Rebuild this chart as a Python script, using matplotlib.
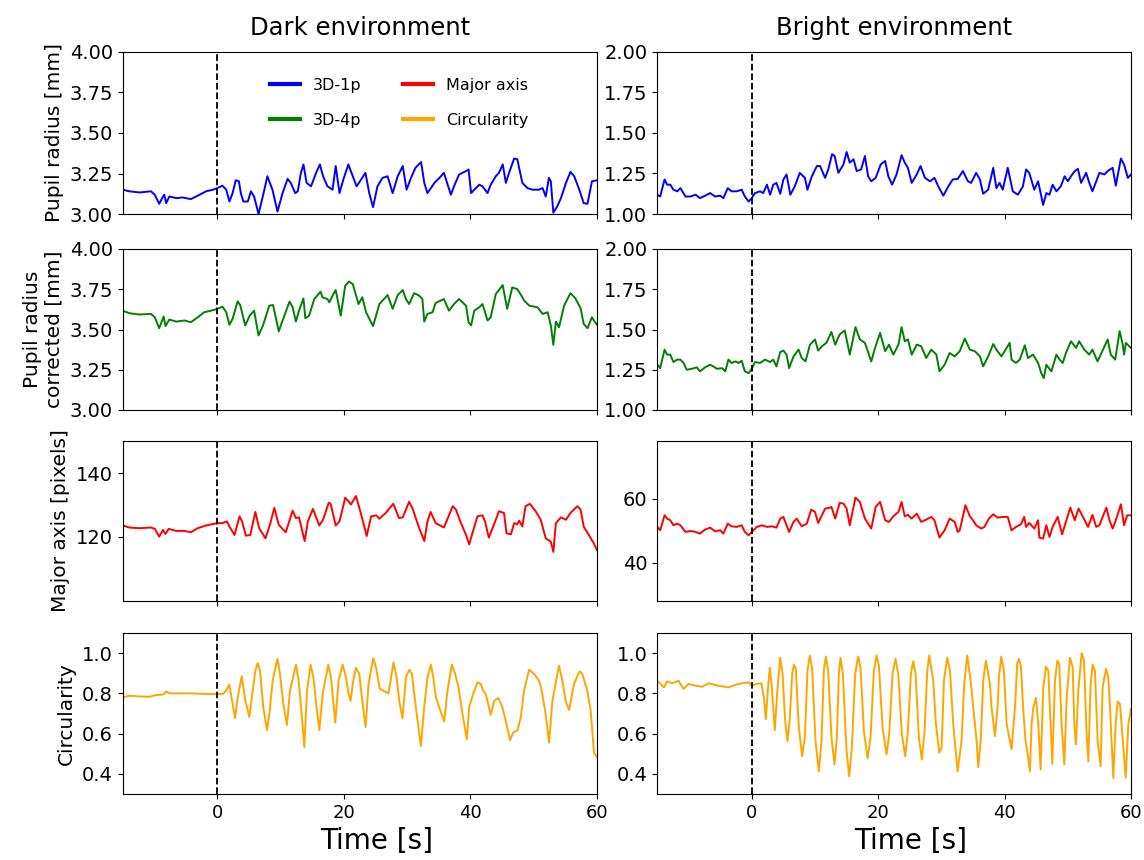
import matplotlib
matplotlib.use("Agg")
import matplotlib.pyplot as plt
from matplotlib.lines import Line2D

# ---------------- Dark environment ----------------
dark_r1p_t = [-15, -13.9, -12.3, -10.5, -9.9, -9.2, -8.6, -8.4, -8.1, -7.6,
              -6.5, -5.5, -4.2, -2.8, -1.8, -0.7, 0, 0.8, 1.4, 1.9,
              2.4, 2.9, 3.4, 3.7, 4.1, 4.8, 5.3, 5.8, 6.5, 7.3,
              7.9, 8.7, 9.5, 10.3, 11.1, 11.6, 12.3, 12.7, 13.2, 13.6,
              14.1, 14.8, 15.6, 16.2, 16.7, 17.4, 18.2, 18.7, 19.3, 19.9,
              20.7, 21.4, 22.0, 22.7, 23.4, 24.0, 24.6, 25.3, 26.1, 26.9,
              27.7, 28.5, 29.3, 29.9, 30.6, 31.3, 32.2, 32.7, 33.2, 34.3,
              35.1, 35.8, 36.9, 37.4, 38.2, 39.3, 39.7, 40.1, 40.6, 41.4,
              41.9, 42.7, 43.2, 44.0, 44.5, 45.1, 45.6, 46.1, 46.9, 47.4,
              48.2, 49.0, 49.8, 50.8, 51.4, 51.9, 52.4, 52.7, 53.1, 53.7,
              54.3, 55.1, 55.8, 56.4, 57.2, 57.9, 58.5, 59.2, 60]
dark_r1p = [3.150, 3.140, 3.133, 3.140, 3.119, 3.063, 3.108, 3.119, 3.067, 3.108,
            3.098, 3.102, 3.092, 3.119, 3.140, 3.150, 3.160, 3.175, 3.150, 3.077,
            3.129, 3.208, 3.202, 3.129, 3.077, 3.077, 3.140, 3.108, 3.000, 3.129,
            3.233, 3.150, 3.015, 3.129, 3.217, 3.192, 3.129, 3.140, 3.254, 3.306,
            3.192, 3.171, 3.254, 3.306, 3.233, 3.171, 3.150, 3.296, 3.129, 3.212,
            3.306, 3.233, 3.171, 3.212, 3.254, 3.129, 3.042, 3.171, 3.223, 3.233,
            3.129, 3.233, 3.296, 3.150, 3.223, 3.285, 3.321, 3.192, 3.129, 3.192,
            3.223, 3.254, 3.119, 3.171, 3.244, 3.265, 3.275, 3.129, 3.150, 3.181,
            3.171, 3.129, 3.181, 3.233, 3.254, 3.306, 3.192, 3.254, 3.342, 3.338,
            3.192, 3.160, 3.150, 3.150, 3.160, 3.108, 3.223, 3.202, 3.008, 3.046,
            3.098, 3.192, 3.260, 3.233, 3.150, 3.067, 3.063, 3.202, 3.208]

dark_r4p_t = [-15, -13.9, -12.3, -10.5, -9.9, -9.2, -8.5, -8.2, -7.6, -6.5,
              -5.2, -4.2, -3.1, -2.1, -1.0, 0, 0.8, 1.4, 1.9, 2.4,
              3.2, 3.6, 4.4, 5.1, 5.8, 6.5, 7.2, 8.2, 8.8, 9.7,
              10.3, 11.4, 11.9, 12.4, 12.9, 13.6, 13.9, 14.5, 15.3, 16.3,
              16.6, 17.4, 17.7, 18.2, 18.7, 19.5, 20.2, 20.8, 21.4, 22.3,
              22.9, 23.5, 24.6, 25.6, 26.9, 27.7, 28.5, 29.3, 29.8, 30.3,
              31.1, 31.9, 32.4, 32.7, 33.2, 34.0, 34.5, 35.8, 36.6, 37.4,
              38.2, 39.3, 39.7, 40.1, 40.6, 41.4, 41.9, 42.7, 43.2, 44.0,
              45.1, 45.8, 46.6, 47.4, 47.9, 48.5, 49.3, 50.6, 51.4, 52.2,
              52.7, 53.1, 53.5, 54.0, 54.8, 55.8, 56.6, 57.4, 57.9, 58.5,
              59.2, 59.5, 60]
dark_r4p = [3.617, 3.601, 3.593, 3.597, 3.576, 3.508, 3.580, 3.521, 3.562, 3.549,
            3.556, 3.545, 3.576, 3.607, 3.617, 3.628, 3.642, 3.607, 3.529, 3.566,
            3.675, 3.652, 3.525, 3.586, 3.617, 3.463, 3.525, 3.648, 3.652, 3.488,
            3.556, 3.673, 3.638, 3.549, 3.617, 3.693, 3.570, 3.586, 3.689, 3.735,
            3.700, 3.689, 3.669, 3.710, 3.745, 3.586, 3.772, 3.798, 3.782, 3.658,
            3.700, 3.607, 3.521, 3.658, 3.714, 3.628, 3.714, 3.745, 3.689, 3.658,
            3.726, 3.710, 3.689, 3.549, 3.597, 3.607, 3.665, 3.689, 3.617, 3.658,
            3.689, 3.648, 3.545, 3.525, 3.617, 3.638, 3.658, 3.556, 3.576, 3.720,
            3.776, 3.628, 3.761, 3.751, 3.720, 3.679, 3.648, 3.638, 3.597, 3.607,
            3.525, 3.405, 3.549, 3.514, 3.648, 3.726, 3.693, 3.632, 3.535, 3.508,
            3.576, 3.556, 3.529]

dark_major_t = [-15, -13.9, -12.3, -10.5, -9.9, -9.2, -8.6, -8.2, -7.7, -6.5,
                -5.2, -4.2, -3.1, -1.8, 0, 0.8, 1.5, 1.9, 2.7, 3.5,
                3.9, 4.5, 5.2, 6.0, 6.6, 7.6, 8.3, 9.0, 9.7, 10.8,
                11.9, 12.4, 12.9, 13.5, 13.8, 14.3, 15.1, 16.1, 16.7, 17.6,
                17.9, 18.7, 19.3, 20.2, 20.7, 21.1, 21.9, 22.7, 23.6, 24.3,
                25.1, 25.6, 26.6, 27.8, 28.7, 29.3, 30.3, 30.8, 31.9, 32.7,
                33.2, 33.7, 34.5, 35.8, 37.2, 37.7, 38.5, 39.3, 39.8, 40.3,
                41.1, 41.9, 42.3, 42.9, 43.7, 44.5, 45.3, 45.7, 46.4, 46.9,
                47.4, 47.7, 48.2, 48.7, 49.4, 50.3, 51.1, 51.9, 52.7, 53.1,
                53.5, 54.3, 55.1, 55.8, 56.9, 57.4, 57.9, 58.7, 59.5, 60]
dark_major = [123.60, 122.96, 122.75, 122.96, 122.54, 120.11, 122.22, 120.95, 122.54, 121.90,
              121.90, 121.48, 122.75, 123.60, 124.34, 124.34, 124.87, 123.28, 120.63, 126.46,
              124.87, 120.42, 120.63, 127.83, 122.75, 119.58, 123.81, 129.10, 123.81, 121.48,
              128.25, 125.93, 126.14, 121.16, 118.73, 124.87, 128.78, 123.60, 125.40, 130.69,
              130.37, 123.60, 124.87, 132.28, 131.22, 130.16, 132.80, 127.20, 120.32, 126.46,
              126.77, 125.71, 127.51, 130.37, 125.93, 126.14, 131.01, 129.10, 122.75, 118.73,
              124.87, 127.83, 124.34, 122.96, 129.63, 128.57, 124.34, 120.63, 117.67, 121.16,
              126.46, 126.77, 124.87, 119.79, 123.81, 128.04, 127.51, 121.16, 120.85, 124.34,
              124.02, 125.08, 123.28, 129.63, 130.37, 128.04, 125.40, 119.58, 118.52, 115.34,
              124.34, 126.14, 125.40, 127.51, 129.63, 128.57, 123.28, 120.63, 117.99, 115.87]

dark_circ_t = [-15, -13.9, -12.3, -10.7, -9.7, -8.9, -8.4, -8.1, -7.6, -6.0,
               -3.9, -1.8, 0, 0.84, 1.37, 1.89, 2.32, 2.79, 3.21, 3.84,
               4.42, 5.05, 5.58, 6.0, 6.37, 6.74, 7.26, 7.84, 8.21, 8.74,
               9.47, 9.89, 10.42, 11.0, 11.47, 12.42, 12.84, 13.37, 13.74, 14.16,
               14.74, 15.16, 15.68, 16.11, 16.63, 17.53, 17.95, 18.63, 19.16, 19.79,
               20.32, 20.74, 21.05, 21.47, 21.89, 22.42, 22.95, 23.42, 23.89, 24.63,
               25.05, 25.68, 27.05, 27.84, 28.32, 28.74, 29.26, 29.79, 30.32, 30.74,
               31.37, 32.16, 32.68, 33.21, 33.74, 34.11, 34.53, 35.84, 36.37, 37.05,
               37.58, 38.11, 38.74, 39.42, 39.79, 40.42, 41.11, 41.63, 42.0, 42.42,
               43.21, 43.74, 44.42, 45.05, 45.58, 46.26, 46.74, 47.42, 47.95, 48.47,
               49.26, 50.05, 50.84, 51.21, 51.89, 52.42, 52.95, 54.0, 54.53, 55.05,
               55.58, 56.37, 57.26, 57.68, 58.47, 59.0, 59.53, 60]
dark_circ = [0.780, 0.788, 0.785, 0.783, 0.792, 0.793, 0.797, 0.810, 0.800, 0.800,
             0.800, 0.797, 0.797, 0.797, 0.813, 0.843, 0.763, 0.677, 0.780, 0.885,
             0.763, 0.683, 0.813, 0.913, 0.950, 0.913, 0.730, 0.617, 0.697, 0.863,
             0.972, 0.897, 0.747, 0.643, 0.813, 0.942, 0.863, 0.680, 0.533, 0.813,
             0.943, 0.880, 0.730, 0.617, 0.797, 0.943, 0.880, 0.655, 0.863, 0.943,
             0.880, 0.797, 0.763, 0.863, 0.927, 0.897, 0.747, 0.633, 0.847, 0.975,
             0.930, 0.822, 0.800, 0.955, 0.880, 0.763, 0.675, 0.880, 0.917, 0.897,
             0.730, 0.538, 0.730, 0.880, 0.943, 0.880, 0.780, 0.660, 0.813, 0.943,
             0.897, 0.830, 0.697, 0.572, 0.730, 0.797, 0.855, 0.847, 0.813, 0.797,
             0.693, 0.763, 0.777, 0.730, 0.663, 0.567, 0.605, 0.617, 0.680, 0.813,
             0.917, 0.897, 0.863, 0.822, 0.697, 0.555, 0.763, 0.938, 0.863, 0.763,
             0.717, 0.847, 0.910, 0.897, 0.813, 0.713, 0.505, 0.483]

# ---------------- Bright environment ----------------
bright_r1p_t = [-15.0, -14.5, -13.8, -13.4, -12.9, -12.4, -11.8, -11.3, -10.5, -9.7,
                -8.9, -8.2, -7.4, -6.6, -5.8, -5.0, -4.5, -3.8, -3.2, -2.4,
                -1.6, -1.1, -0.5, 0, 0.5, 1.3, 1.8, 2.4, 2.9, 3.4,
                3.9, 4.5, 5.0, 5.5, 6.1, 6.8, 7.6, 8.4, 8.8, 9.5,
                10.3, 10.8, 11.6, 12.1, 12.7, 13.1, 13.7, 14.5, 15.0, 15.5,
                16.1, 16.6, 17.3, 17.9, 18.4, 18.9, 19.6, 20.4, 21.1, 21.6,
                22.2, 22.9, 23.7, 24.2, 24.7, 25.3, 26.1, 26.7, 27.4, 28.2,
                28.9, 29.5, 30.3, 31.1, 31.8, 32.6, 33.4, 34.2, 34.7, 35.5,
                36.1, 36.6, 37.4, 38.2, 38.7, 39.2, 39.7, 40.5, 41.3, 42.1,
                42.9, 43.4, 43.9, 44.7, 45.3, 46.1, 46.6, 47.1, 47.6, 48.2,
                48.9, 49.5, 50.0, 50.5, 51.1, 51.6, 52.1, 52.9, 53.4, 53.9,
                54.5, 55.0, 55.8, 56.3, 57.1, 57.6, 58.4, 58.9, 59.5, 60]
bright_r1p = [1.119, 1.108, 1.213, 1.181, 1.181, 1.150, 1.140, 1.160, 1.108, 1.108,
              1.119, 1.098, 1.113, 1.129, 1.108, 1.113, 1.098, 1.160, 1.140, 1.140,
              1.150, 1.108, 1.077, 1.098, 1.129, 1.140, 1.129, 1.181, 1.119, 1.181,
              1.192, 1.125, 1.213, 1.244, 1.119, 1.171, 1.254, 1.223, 1.150, 1.233,
              1.296, 1.296, 1.223, 1.275, 1.369, 1.358, 1.254, 1.306, 1.383, 1.317,
              1.338, 1.265, 1.275, 1.358, 1.233, 1.202, 1.223, 1.306, 1.327, 1.233,
              1.181, 1.244, 1.363, 1.317, 1.285, 1.192, 1.244, 1.296, 1.223, 1.202,
              1.223, 1.171, 1.113, 1.171, 1.213, 1.217, 1.265, 1.202, 1.192, 1.254,
              1.213, 1.125, 1.150, 1.285, 1.160, 1.192, 1.150, 1.285, 1.140, 1.119,
              1.171, 1.275, 1.254, 1.150, 1.202, 1.056, 1.129, 1.119, 1.181, 1.140,
              1.171, 1.233, 1.202, 1.233, 1.265, 1.279, 1.192, 1.254, 1.192, 1.140,
              1.202, 1.254, 1.244, 1.265, 1.285, 1.175, 1.342, 1.306, 1.223, 1.244]

bright_r4p_t = [-15.0, -14.5, -13.8, -13.4, -12.9, -12.4, -11.8, -11.3, -10.8, -10.3,
                -9.5, -8.7, -8.2, -7.4, -6.6, -6.1, -5.5, -4.7, -4.2, -3.7,
                -3.2, -2.6, -2.1, -1.6, -1.1, -0.5, 0, 0.5, 1.3, 2.1,
                2.9, 3.4, 3.9, 4.5, 5.0, 5.5, 5.9, 6.6, 7.4, 7.9,
                8.5, 9.2, 10.0, 10.5, 11.1, 11.8, 12.6, 13.2, 13.9, 14.7,
                15.5, 16.4, 17.1, 17.9, 18.9, 19.5, 20.3, 21.1, 21.7, 22.4,
                23.2, 23.7, 24.2, 24.7, 25.3, 26.1, 26.8, 27.6, 28.4, 29.2,
                29.7, 30.5, 31.3, 32.1, 32.9, 33.7, 34.5, 35.3, 36.1, 36.6,
                37.4, 38.2, 38.7, 39.5, 40.0, 40.8, 41.1, 41.8, 42.4, 43.2,
                43.7, 44.5, 45.3, 45.8, 46.2, 46.6, 47.4, 48.2, 48.7, 49.2,
                49.7, 50.5, 51.3, 51.8, 52.6, 53.4, 53.9, 54.7, 55.5, 56.3,
                56.8, 57.5, 58.2, 58.7, 58.9, 59.2, 60]
bright_r4p = [1.285, 1.260, 1.375, 1.344, 1.344, 1.298, 1.313, 1.313, 1.292, 1.250,
              1.256, 1.265, 1.240, 1.265, 1.281, 1.271, 1.256, 1.260, 1.240, 1.313,
              1.292, 1.302, 1.292, 1.306, 1.240, 1.229, 1.256, 1.298, 1.292, 1.313,
              1.298, 1.313, 1.271, 1.360, 1.369, 1.344, 1.260, 1.333, 1.375, 1.323,
              1.302, 1.406, 1.438, 1.369, 1.396, 1.417, 1.485, 1.406, 1.469, 1.494,
              1.344, 1.515, 1.438, 1.417, 1.302, 1.385, 1.479, 1.365, 1.406, 1.344,
              1.406, 1.515, 1.427, 1.438, 1.344, 1.406, 1.396, 1.323, 1.375, 1.344,
              1.240, 1.281, 1.354, 1.333, 1.365, 1.444, 1.375, 1.365, 1.333, 1.271,
              1.333, 1.410, 1.375, 1.333, 1.365, 1.417, 1.313, 1.292, 1.313, 1.402,
              1.323, 1.344, 1.292, 1.229, 1.198, 1.281, 1.240, 1.344, 1.313, 1.292,
              1.354, 1.427, 1.385, 1.427, 1.375, 1.344, 1.375, 1.302, 1.369, 1.438,
              1.344, 1.313, 1.490, 1.406, 1.344, 1.417, 1.385]

bright_major_t = [-15.0, -14.5, -13.8, -13.4, -12.9, -12.4, -11.8, -11.3, -10.5, -9.7,
                  -8.9, -8.2, -7.4, -6.6, -5.8, -5.0, -4.5, -3.8, -3.2, -2.4,
                  -1.6, -1.1, -0.5, 0, 0.8, 1.6, 2.4, 3.2, 3.9, 4.5,
                  5.0, 5.5, 5.9, 6.6, 7.1, 7.9, 8.7, 9.4, 10.0, 10.5,
                  11.1, 11.6, 12.4, 12.6, 13.2, 13.9, 14.5, 15.0, 15.5, 16.4,
                  17.1, 17.9, 18.9, 19.6, 20.3, 21.1, 21.7, 22.4, 23.2, 23.7,
                  24.2, 24.7, 25.3, 26.1, 26.8, 27.6, 28.4, 28.9, 29.7, 30.5,
                  31.3, 32.1, 32.6, 32.9, 33.8, 34.5, 35.0, 35.5, 36.3, 36.8,
                  37.5, 38.2, 38.9, 39.7, 40.5, 41.1, 41.8, 42.6, 43.1, 43.4,
                  43.9, 44.7, 45.3, 45.5, 46.1, 46.6, 47.1, 47.6, 48.4, 49.1,
                  49.7, 50.4, 51.1, 51.7, 52.4, 53.2, 53.9, 54.5, 55.0, 56.1,
                  56.6, 57.1, 57.6, 58.4, 58.9, 59.4, 60]
bright_major = [51.35, 50.10, 54.79, 53.75, 53.23, 51.67, 52.19, 51.67, 49.58, 49.90,
                49.58, 49.06, 50.31, 50.94, 49.79, 50.10, 49.06, 52.19, 51.35, 51.15,
                51.67, 49.58, 48.54, 49.58, 51.15, 51.67, 51.15, 51.35, 50.94, 53.75,
                54.27, 51.67, 49.58, 52.71, 53.75, 51.35, 52.19, 56.56, 55.83, 52.40,
                54.79, 56.88, 57.19, 57.40, 53.75, 58.65, 58.44, 56.88, 51.67, 60.31,
                58.96, 53.75, 50.63, 57.40, 58.96, 53.23, 52.71, 54.48, 55.83, 58.96,
                54.48, 54.90, 53.75, 55.31, 52.71, 53.44, 54.27, 53.23, 47.81, 50.10,
                53.75, 52.71, 49.58, 50.10, 57.92, 54.48, 53.23, 51.67, 50.63, 51.15,
                53.75, 55.10, 54.06, 54.27, 54.27, 50.10, 51.15, 51.98, 54.27, 51.15,
                52.40, 50.63, 53.23, 47.81, 47.50, 51.67, 48.02, 51.15, 54.27, 48.85,
                52.71, 57.19, 53.23, 56.88, 54.27, 51.15, 54.90, 51.15, 51.67, 57.19,
                53.23, 50.63, 53.23, 58.23, 51.67, 54.79, 54.79]

bright_circ_t = [-15.0, -14.7, -13.9, -13.4, -12.6, -11.6, -10.8, -10.0, -8.9, -7.9,
                 -6.8, -5.3, -3.7, -2.1, -0.5, 0, 0.74, 1.53, 1.90, 2.22,
                 2.53, 2.85, 3.17, 3.64, 4.01, 4.49, 4.85, 5.28, 5.65, 6.02,
                 6.39, 6.65, 6.97, 7.44, 7.97, 8.39, 8.81, 9.18, 9.55, 10.08,
                 10.61, 11.03, 11.40, 11.72, 12.08, 12.61, 13.09, 13.46, 13.77, 14.04,
                 14.41, 14.99, 15.41, 15.83, 16.36, 16.83, 17.20, 17.73, 18.31, 18.79,
                 19.31, 19.74, 20.11, 20.69, 21.32, 21.74, 22.27, 22.74, 23.17, 23.75,
                 24.27, 24.70, 25.17, 25.54, 25.91, 26.44, 26.91, 27.34, 27.76, 28.07,
                 28.71, 29.13, 29.66, 30.03, 30.40, 30.92, 31.35, 31.87, 32.56, 33.19,
                 33.61, 34.09, 34.62, 35.57, 35.83, 36.25, 36.62, 37.04, 37.68, 37.94,
                 38.47, 38.89, 39.10, 39.47, 39.89, 40.32, 41.11, 41.64, 42.00, 42.27,
                 42.59, 42.96, 43.32, 43.59, 44.01, 44.27, 44.54, 44.96, 45.33, 45.70,
                 46.12, 46.54, 46.91, 47.28, 47.55, 47.97, 48.34, 48.65, 49.02, 49.45,
                 49.82, 50.34, 50.77, 51.03, 51.29, 51.66, 52.19, 52.56, 52.98, 53.25,
                 53.61, 53.93, 54.30, 54.72, 55.20, 55.51, 56.04, 56.41, 56.68, 57.20,
                 57.57, 57.89, 58.26, 58.63, 59.16, 59.58, 60]
bright_circ = [0.863, 0.855, 0.830, 0.860, 0.850, 0.863, 0.822, 0.847, 0.838, 0.833,
               0.850, 0.838, 0.830, 0.847, 0.855, 0.838, 0.847, 0.850, 0.780, 0.672,
               0.813, 0.927, 0.830, 0.617, 0.797, 0.977, 0.905, 0.663, 0.563, 0.680,
               0.897, 0.943, 0.922, 0.630, 0.488, 0.580, 0.913, 0.988, 0.922, 0.563,
               0.413, 0.563, 0.913, 0.983, 0.913, 0.580, 0.447, 0.580, 0.897, 0.977,
               0.897, 0.513, 0.388, 0.530, 0.897, 0.983, 0.930, 0.613, 0.477, 0.580,
               0.913, 0.988, 0.938, 0.630, 0.497, 0.597, 0.897, 0.972, 0.897, 0.597,
               0.488, 0.613, 0.897, 0.960, 0.897, 0.580, 0.472, 0.613, 0.913, 0.988,
               0.863, 0.647, 0.505, 0.530, 0.863, 0.977, 0.913, 0.647, 0.413, 0.563,
               0.847, 0.988, 0.863, 0.563, 0.433, 0.580, 0.863, 0.963, 0.847, 0.730,
               0.588, 0.730, 0.880, 0.983, 0.913, 0.647, 0.522, 0.730, 0.947, 0.972,
               0.930, 0.713, 0.563, 0.513, 0.413, 0.647, 0.730, 0.777, 0.647, 0.422,
               0.830, 0.933, 0.913, 0.647, 0.450, 0.863, 0.963, 0.947, 0.647, 0.447,
               0.780, 0.977, 0.930, 0.647, 0.547, 0.813, 1.000, 0.963, 0.597, 0.463,
               0.847, 0.943, 0.913, 0.563, 0.438, 0.830, 0.922, 0.880, 0.730, 0.380,
               0.647, 0.760, 0.747, 0.597, 0.380, 0.647, 0.722]

titles = ["Dark environment", "Bright environment"]
ylabels = ["Pupil radius [mm]", "Pupil radius\ncorrected [mm]",
           "Major axis [pixels]", "Circularity"]
legend_labels = ["3D-1p", "3D-4p", "Major axis", "Circularity"]
colors = ["blue", "green", "red", "orange"]
xticks = [0, 20, 40, 60]

series = [
    [(dark_r1p_t, dark_r1p), (bright_r1p_t, bright_r1p)],
    [(dark_r4p_t, dark_r4p), (bright_r4p_t, bright_r4p)],
    [(dark_major_t, dark_major), (bright_major_t, bright_major)],
    [(dark_circ_t, dark_circ), (bright_circ_t, bright_circ)],
]
ylims = [[(3.0, 4.0), (1.0, 2.0)],
         [(3.0, 4.0), (1.0, 2.0)],
         [(100, 150), (28, 78)],
         [(0.3, 1.1), (0.3, 1.1)]]
yticks = [[[3.0, 3.25, 3.5, 3.75, 4.0], [1.0, 1.25, 1.5, 1.75, 2.0]],
          [[3.0, 3.25, 3.5, 3.75, 4.0], [1.0, 1.25, 1.5, 1.75, 2.0]],
          [[120, 140], [40, 60]],
          [[0.4, 0.6, 0.8, 1.0], [0.4, 0.6, 0.8, 1.0]]]
ytick_fmt = [["{:.2f}", "{:.2f}"], ["{:.2f}", "{:.2f}"],
             ["{:.0f}", "{:.0f}"], ["{:.1f}", "{:.1f}"]]

plt.rcParams['font.family'] = ['DejaVu Sans']

fig = plt.figure(figsize=(11.44, 8.6), dpi=100)
W, H = 1144.0, 860.0
col_x = [(122.5, 474.5), (657.0, 474.0)]
row_y = [(52, 214), (249, 410), (441, 601), (633, 794)]

axes = []
for r in range(4):
    row = []
    for c in range(2):
        x0, w = col_x[c]
        top, bot = row_y[r]
        ax = fig.add_axes([x0 / W, 1 - bot / H, w / W, (bot - top) / H])
        t, v = series[r][c]
        ax.plot(t, v, color=colors[r], lw=1.4)
        ax.axvline(0, color='black', ls='--', lw=1.3)
        ax.set_xlim(-15, 60)
        ax.set_ylim(*ylims[r][c])
        ax.set_yticks(yticks[r][c])
        ax.set_yticklabels([ytick_fmt[r][c].format(val) for val in yticks[r][c]])
        ax.set_xticks(xticks)
        ax.tick_params(axis='y', labelsize=14)
        ax.tick_params(axis='x', labelsize=13)
        if r < 3:
            ax.set_xticklabels([])
        else:
            ax.set_xlabel("Time [s]", fontsize=20, x=0.535)
        if c == 0:
            ax.set_ylabel(ylabels[r], fontsize=14.5)
        if r == 0:
            ax.set_title(titles[c], fontsize=17.5, pad=12)
        row.append(ax)
    axes.append(row)

handles = [Line2D([], [], color=col, lw=3) for col in colors]
axes[0][0].legend(handles, legend_labels, ncol=2, frameon=False, fontsize=11.5,
                  loc='upper left', bbox_to_anchor=(0.28, 0.93),
                  handlelength=1.9, columnspacing=2.6, labelspacing=1.25)

fig.savefig("out.png", dpi=100)
